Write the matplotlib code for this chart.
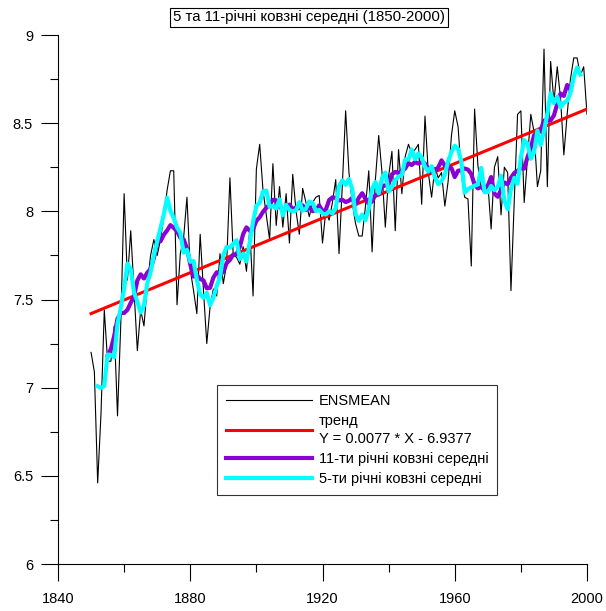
import numpy as np
import pandas as pd
import matplotlib
matplotlib.use("Agg")
import matplotlib.pyplot as plt
from matplotlib.ticker import MultipleLocator, FuncFormatter

plt.rcParams['font.family'] = ['Liberation Sans', 'DejaVu Sans']

years = np.arange(1850, 2001)
ensmean = [
    7.20, 7.09, 6.46, 6.85, 7.44, 7.15, 7.15, 7.35, 6.84, 7.37,   # 1850-1859
    8.10, 7.61, 7.89, 7.55, 7.21, 7.44, 7.35, 7.58, 7.75, 7.84,   # 1860-1869
    7.75, 7.84, 7.97, 8.12, 8.23, 8.23, 7.47, 7.76, 7.85, 8.08,   # 1870-1879
    7.67, 7.55, 7.42, 7.87, 7.55, 7.25, 7.46, 7.56, 7.52, 7.76,   # 1880-1889
    7.59, 7.70, 8.19, 7.75, 7.74, 7.70, 7.80, 7.66, 7.90, 7.52,   # 1890-1899
    8.24, 8.38, 8.12, 7.98, 7.84, 8.27, 7.92, 8.14, 7.91, 8.10,   # 1900-1909
    7.82, 8.21, 8.00, 7.87, 8.13, 8.05, 7.97, 8.05, 8.08, 8.09,   # 1910-1919
    7.82, 8.00, 7.95, 8.05, 8.18, 7.76, 8.15, 8.57, 8.22, 8.05,   # 1920-1929
    7.93, 7.86, 7.86, 8.03, 8.23, 7.77, 8.18, 8.43, 8.22, 7.91,   # 1930-1939
    8.20, 8.34, 7.89, 8.35, 8.10, 8.31, 8.38, 8.33, 8.35, 8.38,   # 1940-1949
    8.04, 8.54, 8.22, 8.08, 8.25, 8.19, 8.22, 8.03, 8.17, 8.43,   # 1950-1959
    8.57, 8.48, 8.21, 8.08, 8.07, 7.69, 8.58, 8.26, 8.13, 8.10,   # 1960-1969
    8.16, 7.90, 8.25, 8.31, 7.98, 8.25, 8.22, 7.55, 8.06, 8.55,   # 1970-1979
    8.57, 8.05, 8.30, 8.55, 8.45, 8.14, 8.23, 8.92, 8.14, 8.85,   # 1980-1989
    8.62, 8.82, 8.64, 8.32, 8.55, 8.75, 8.87, 8.87, 8.77, 8.82,   # 1990-1999
    8.55,                                                         # 2000
]
trend_years = [1850, 2000]
trend_values = [7.42, 8.58]

ma11 = pd.Series(ensmean).rolling(11, center=True).mean().to_numpy()
ma5 = pd.Series(ensmean).rolling(5, center=True).mean().to_numpy()

title_text = "5 та 11-річні ковзні середні (1850-2000)"
lbl_ens = "ENSMEAN"
lbl_trend = "тренд\nY = 0.0077 * X - 6.9377"
lbl_11 = "11-ти річні ковзні середні"
lbl_5 = "5-ти річні ковзні середні"

W, H = 606, 611
fig = plt.figure(figsize=(W / 100, H / 100), dpi=100)
x0, x1 = 58, 587
y0, y1 = 35, 564
ax = fig.add_axes([x0 / W, 1 - y1 / H, (x1 - x0) / W, (y1 - y0) / H])

ax.plot(years, ensmean, color='black', lw=0.8, label=lbl_ens, zorder=2)
ax.plot(trend_years, trend_values, color='#ff0000', lw=2.2, label=lbl_trend, zorder=3)
ax.plot(years, ma11, color='#8c00d4', lw=3.0, label=lbl_11, zorder=4)
ax.plot(years, ma5, color='#00ffff', lw=3.0, label=lbl_5, zorder=5)

ax.set_xlim(1840, 2000)
ax.set_ylim(6, 9)
ax.spines['top'].set_visible(False)
ax.spines['right'].set_visible(False)
for s in ('left', 'bottom'):
    ax.spines[s].set_linewidth(0.8)

ax.xaxis.set_major_locator(MultipleLocator(40))
ax.xaxis.set_minor_locator(MultipleLocator(20))
ax.yaxis.set_major_locator(MultipleLocator(0.5))
ax.yaxis.set_minor_locator(MultipleLocator(0.25))
ax.yaxis.set_major_formatter(FuncFormatter(lambda v, p: f"{v:g}"))
ax.tick_params(axis='both', which='major', direction='out', length=12, width=0.8,
               labelsize=10.5)
ax.tick_params(axis='x', which='major', pad=8)
ax.tick_params(axis='y', which='major', pad=6)
ax.tick_params(axis='both', which='minor', direction='out', length=6, width=0.8)

fig.text(309 / W, 1 - 17.5 / H, title_text, ha='center', va='center', fontsize=10.8,
         bbox=dict(boxstyle='square,pad=0.18', facecolor='white', edgecolor='black', linewidth=0.8))

leg = ax.legend(loc='upper left', bbox_to_anchor=(217 / W, 1 - 385 / H),
                bbox_transform=fig.transFigure, fontsize=10.5, frameon=True,
                fancybox=False, edgecolor='black', handlelength=5.9,
                borderaxespad=0, labelspacing=0.42, handletextpad=0.45,
                borderpad=0.62)
leg.get_frame().set_linewidth(0.8)
leg.get_texts()[1].set_linespacing(1.35)

fig.savefig("out.png", dpi=100)
